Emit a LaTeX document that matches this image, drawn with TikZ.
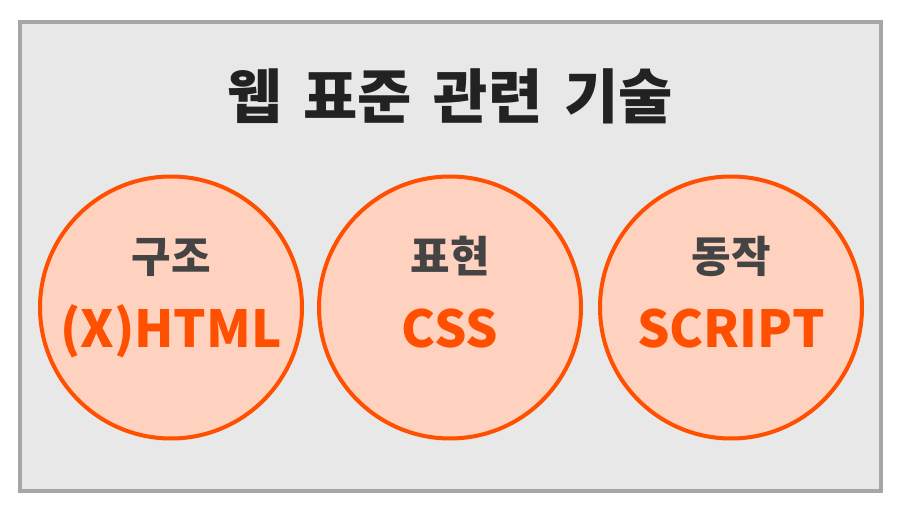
\documentclass[tikz,border=0pt]{standalone}
\usepackage{fontspec}
\setmainfont{Noto Sans CJK KR}
\definecolor{framegray}{HTML}{A6A6A6}
\definecolor{bggray}{HTML}{E8E8E8}
\definecolor{peach}{HTML}{FFD1BF}
\definecolor{orng}{HTML}{FF4F00}
\definecolor{titleink}{HTML}{222222}
\definecolor{subink}{HTML}{444444}
\begin{document}
\begin{tikzpicture}[x=1pt,y=-1pt,
  frame/.style={draw=framegray,fill=bggray,line width=4pt},
  bubble/.style={circle,draw=orng,fill=peach,line width=4pt,minimum size=262pt,inner sep=0pt},
  titletext/.style={anchor=base,text=titleink,font=\fontsize{59}{62}\selectfont\bfseries},
  subtext/.style={anchor=base,text=subink,font=\fontsize{43}{46}\selectfont\bfseries},
  techtext/.style={anchor=base,text=orng,font=\fontsize{51}{54}\selectfont\bfseries}
]
\useasboundingbox (0,0) rectangle (900,508);
\node[frame,minimum width=861pt,minimum height=469pt,inner sep=0pt] (box) at (450.5,256.5) {};
\node[titletext] (title) at (450,119) {웹\hspace{22pt}표준\hspace{22pt}관련\hspace{22pt}기술};
\node[bubble] (c1) at (171,307.5) {};
\node[bubble] (c2) at (450,307.5) {};
\node[bubble] (c3) at (731,307.5) {};
\node[subtext] (s1) at (171,272) {구조};
\node[subtext] (s2) at (450,272) {표현};
\node[subtext] (s3) at (731,272) {동작};
\node[techtext] (t1) at (171,347) {(X)HTML};
\node[techtext] (t2) at (450,347) {CSS};
\node[techtext] (t3) at (731,347) {SCRIPT};
\end{tikzpicture}
\end{document}
